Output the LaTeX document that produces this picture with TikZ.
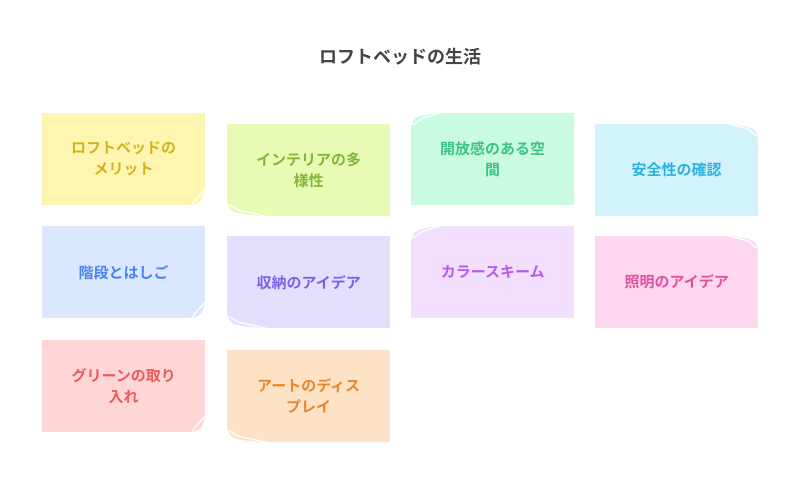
\documentclass[tikz,border=0pt]{standalone}
\usepackage{fontspec}
\setmainfont{Noto Sans CJK JP}[BoldFont={* Bold}]
\usepackage{tikz}
\usetikzlibrary{positioning,calc}

\definecolor{yelF}{HTML}{FEF6B0}\definecolor{yelT}{HTML}{D4B41C}
\definecolor{grnF}{HTML}{E8FBB5}\definecolor{grnT}{HTML}{84B53A}
\definecolor{mntF}{HTML}{C9FBE0}\definecolor{mntT}{HTML}{3CC387}
\definecolor{cynF}{HTML}{D2F3FC}\definecolor{cynT}{HTML}{2AB1DC}
\definecolor{bluF}{HTML}{DBE7FE}\definecolor{bluT}{HTML}{4B84EE}
\definecolor{purF}{HTML}{E5DFFE}\definecolor{purT}{HTML}{7B61EE}
\definecolor{lilF}{HTML}{F2DFFE}\definecolor{lilT}{HTML}{B65AEE}
\definecolor{pnkF}{HTML}{FDD7EE}\definecolor{pnkT}{HTML}{E0509F}
\definecolor{redF}{HTML}{FED6D6}\definecolor{redT}{HTML}{EE5A5A}
\definecolor{orgF}{HTML}{FEE2C6}\definecolor{orgT}{HTML}{E8862E}

% curled corners
\newcommand{\curlse}[1]{%
  \fill[white] ($(#1.south east)+(-14,0)$) .. controls ($(#1.south east)+(-4,-3)$) .. ($(#1.south east)+(0,-16)$) -- (#1.south east) -- cycle;
  \draw[curl] ($(#1.south east)+(-14,0)$) -- ($(#1.south east)+(-8,-8)$) -- ($(#1.south east)+(0,-16)$);}
\newcommand{\curlsw}[1]{%
  \fill[white] ($(#1.south west)+(0,-14)$) .. controls ($(#1.south west)+(4,-3)$) .. ($(#1.south west)+(40,0)$) -- (#1.south west) -- cycle;
  \draw[curl] ($(#1.south west)+(2,-12)$) -- ($(#1.south west)+(12,-6)$) -- ($(#1.south west)+(40,0)$);}
\newcommand{\curlnw}[1]{%
  \fill[white] ($(#1.north west)+(0,14)$) .. controls ($(#1.north west)+(4,3)$) .. ($(#1.north west)+(30,0)$) -- (#1.north west) -- cycle;
  \draw[curl] ($(#1.north west)+(2,12)$) -- ($(#1.north west)+(12,5)$) -- ($(#1.north west)+(30,0)$);}
\newcommand{\curlne}[1]{%
  \fill[white] ($(#1.north east)+(-30,0)$) .. controls ($(#1.north east)+(-4,3)$) .. ($(#1.north east)+(0,14)$) -- (#1.north east) -- cycle;
  \draw[curl] ($(#1.north east)+(-30,0)$) -- ($(#1.north east)+(-10,5)$) -- ($(#1.north east)+(-2,12)$);}

\begin{document}
\begin{tikzpicture}[
  x=1pt, y=-1pt,
  note/.style={minimum width=163pt, minimum height=92pt, inner sep=0pt, anchor=north west,
    align=center, text width=140pt, font=\bfseries\fontsize{15}{21}\selectfont},
  curl/.style={white, line width=1.2pt},
]
  \useasboundingbox (0,0) rectangle (800,503);

  \node (title) at (400,57) {\bfseries\fontsize{18}{22}\selectfont\color[HTML]{444444}ロフトベッドの生活};

  % notes: name / x / y / colour / corner / text
  \foreach \n/\x/\y/\c/\k/\t in {
      loft/42/113/yel/se/{ロフトベッドの\\メリット},
      interior/227/124/grn/sw/{インテリアの多\\様性},
      open/411/113/mnt/nw/{開放感のある空\\間},
      safety/595/124/cyn/ne/{安全性の確認},
      stairs/42/226/blu/se/{階段とはしご},
      storage/227/236/pur/sw/{収納のアイデア},
      scheme/411/226/lil/nw/{カラースキーム},
      light/595/236/pnk/ne/{照明のアイデア},
      green/42/340/red/se/{グリーンの取り\\入れ},
      art/227/350/org/sw/{アートのディス\\プレイ}}{
    \node[note, fill=\c F, text=\c T] (\n) at (\x,\y) {\t};
    \csname curl\k\endcsname{\n}
  }
\end{tikzpicture}
\end{document}
